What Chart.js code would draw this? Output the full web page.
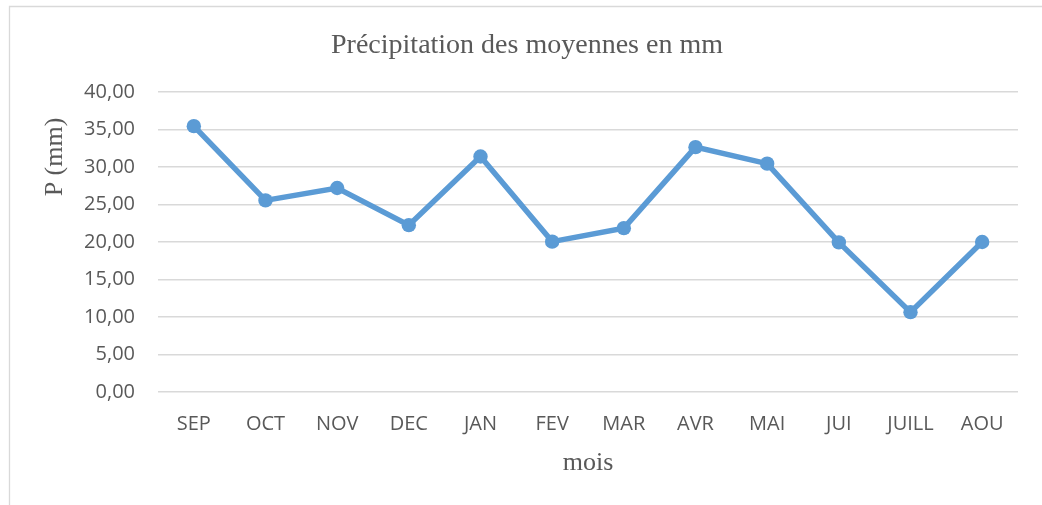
<!DOCTYPE html>
<html>
<head>
<meta charset="utf-8">
<script src="https://cdn.jsdelivr.net/npm/chart.js@4"></script>
<style>
  html, body { margin: 0; padding: 0; background: #ffffff; }
  #wrap { width: 1042px; height: 505px; }
</style>
</head>
<body>
<div id="wrap"><canvas id="c" width="1042" height="505"></canvas></div>
<script>
// ---- data ----
const categories = ["SEP", "OCT", "NOV", "DEC", "JAN", "FEV", "MAR", "AVR", "MAI", "JUI", "JUILL", "AOU"];
const precipitation = [35.45, 25.55, 27.2, 22.25, 31.4, 20.05, 21.85, 32.65, 30.45, 19.95, 10.65, 20.0];
const yMin = 0;
const yMax = 40;
const yStep = 5;
const chartTitle = "Précipitation des moyennes en mm";
const xTitle = "mois";
const yTitle = "P (mm)";

const textColor = "#595959";
const gridColor = "#d9d9d9";
const lineColor = "#5B9BD5";

const framePlugin = {
  id: "frame",
  beforeDraw(chart) {
    const ctx = chart.ctx;
    ctx.save();
    ctx.fillStyle = "#ffffff";
    ctx.fillRect(0, 0, chart.width, chart.height);
    ctx.strokeStyle = gridColor;
    ctx.lineWidth = 1.3;
    ctx.beginPath();
    ctx.moveTo(9.5, chart.height);
    ctx.lineTo(9.5, 6.5);
    ctx.lineTo(chart.width, 6.5);
    ctx.stroke();
    ctx.restore();
  }
};

const yTitlePlugin = {
  id: "yTitle",
  afterDraw(chart) {
    const ctx = chart.ctx;
    ctx.save();
    ctx.translate(62, 157);
    ctx.rotate(-Math.PI / 2);
    ctx.font = "26px 'Liberation Serif', 'Times New Roman', serif";
    ctx.fillStyle = textColor;
    ctx.textAlign = "center";
    ctx.textBaseline = "alphabetic";
    ctx.fillText(yTitle, 0, 0);
    ctx.restore();
  }
};

new Chart(document.getElementById("c"), {
  type: "line",
  data: {
    labels: categories,
    datasets: [{
      label: "P",
      data: precipitation,
      borderColor: lineColor,
      backgroundColor: lineColor,
      borderWidth: 5.5,
      pointRadius: 7.2,
      pointBackgroundColor: lineColor,
      pointBorderColor: lineColor,
      pointBorderWidth: 0,
      tension: 0,
      fill: false
    }]
  },
  options: {
    responsive: false,
    animation: false,
    layout: { padding: { left: 36, right: 24, top: 0, bottom: 0 } },
    plugins: {
      legend: { display: false },
      tooltip: { enabled: false },
      title: {
        display: true,
        text: chartTitle,
        color: textColor,
        font: { family: "'Liberation Serif', 'Times New Roman', serif", size: 28, weight: "normal" },
        padding: { top: 28.7, bottom: 29.7 }
      }
    },
    scales: {
      x: {
        offset: true,
        grid: { display: false, drawTicks: false },
        border: { display: false },
        ticks: {
          color: textColor,
          font: { family: "'Open Sans', sans-serif", size: 20 },
          padding: 20,
          maxRotation: 0,
          autoSkip: false
        },
        title: {
          display: true,
          text: xTitle,
          color: textColor,
          font: { family: "'Liberation Serif', 'Times New Roman', serif", size: 26 },
          padding: { top: 0, bottom: 26 }
        },
        afterFit(scale) { scale.height = 113; }
      },
      y: {
        min: yMin,
        max: yMax,
        grid: { color: gridColor, lineWidth: 1.5, drawTicks: false },
        border: { display: false },
        ticks: {
          stepSize: yStep,
          color: textColor,
          font: { family: "'Open Sans', sans-serif", size: 20 },
          padding: 23,
          callback: (v) => Number(v).toFixed(2).replace(".", ",")
        },
        afterFit(scale) { scale.width = 122; }
      }
    }
  },
  plugins: [framePlugin, yTitlePlugin]
});
</script>
</body>
</html>
